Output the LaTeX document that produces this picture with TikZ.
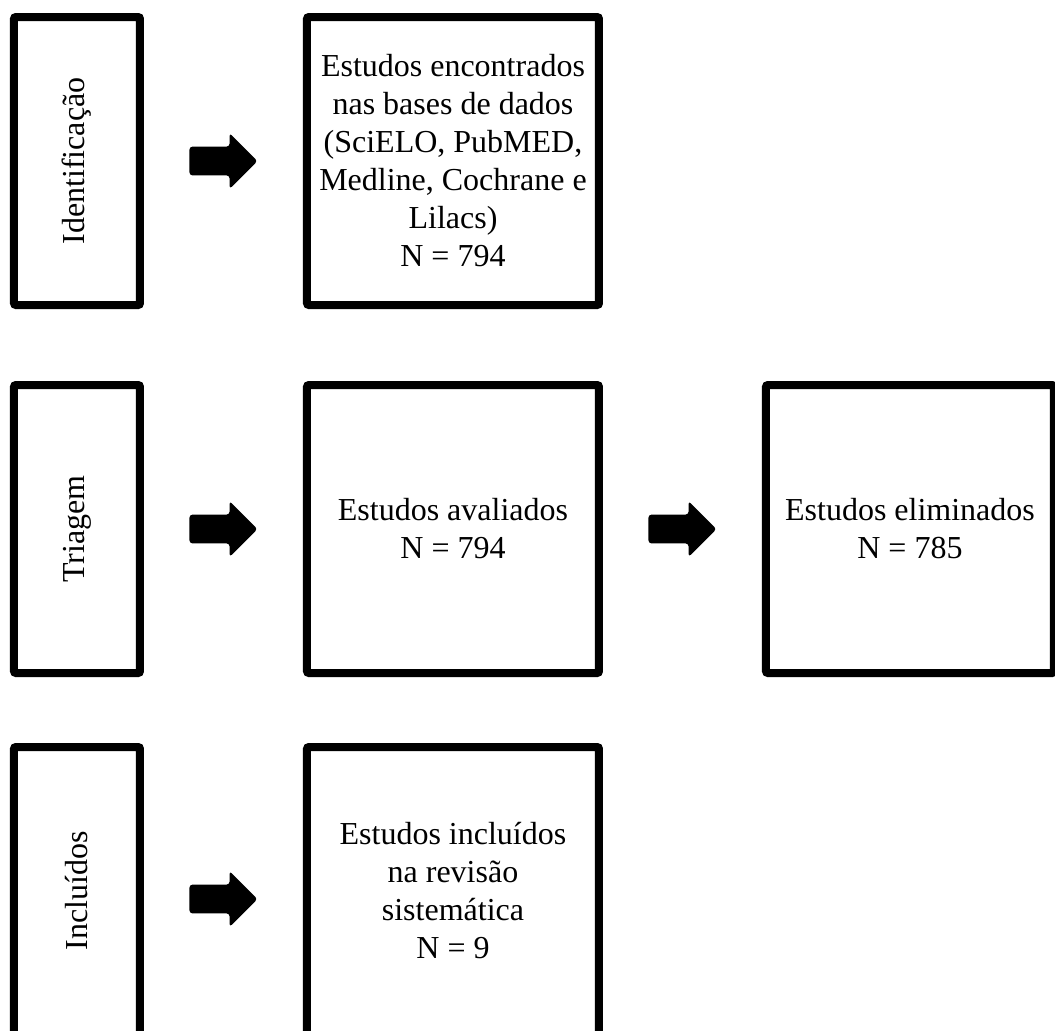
\documentclass[tikz,border=0pt]{standalone}
\usepackage{fontspec}
\setmainfont{Liberation Serif}
\usetikzlibrary{calc}
\usetikzlibrary{positioning}
\usetikzlibrary{shapes,shapes.arrows}
\begin{document}
\begin{tikzpicture}[
  x=0.5pt,y=-0.5pt,
  font=\fontsize{16}{19}\selectfont,
  every matrix/.style={ampersand replacement=\&,column sep=22.75pt,row sep=33pt,inner sep=0pt},
  stage/.style={draw,line width=4pt,rounded corners=1pt,minimum width=63pt,minimum height=144pt,inner sep=0pt},
  record/.style={stage,minimum width=146pt},
  recordwide/.style={stage,minimum width=144pt},
  blockarrow/.style={single arrow,fill=black,draw=none,rounded corners=1.5pt,
    minimum height=34pt,minimum width=27.5pt,single arrow head extend=6.75pt,
    inner xsep=0pt,inner ysep=7pt,outer sep=0pt},
  every node/.style={align=center}]

  % Lay out the boxes and the block arrows in a grid
  \matrix{
    \node[stage] (ident) {\rotatebox{90}{Identificação}};
      \& \node[blockarrow] (arrowident) {};
      \& \node[record] (found) {Estudos encontrados\\nas bases de dados\\(SciELO, PubMED,\\Medline, Cochrane e\\Lilacs)\\N = 794};
      \& \& \\[3pt]
    \node[stage] (screen) {\rotatebox{90}{Triagem}};
      \& \node[blockarrow] (arrowscreen) {};
      \& \node[record] (assessed) {Estudos avaliados\\N = 794};
      \& \node[blockarrow] (arrowexcl) {};
      \& \node[recordwide] (excluded) {Estudos eliminados\\N = 785};
      \\
    \node[stage] (incl) {\rotatebox{90}{Incluídos}};
      \& \node[blockarrow,yshift=-4pt] (arrowincl) {};
      \& \node[record] (included) {Estudos incluídos\\na revisão\\sistemática\\N = 9};
      \& \& \\
  };

  % Crop to the visible frame
  \pgfresetboundingbox
  \useasboundingbox ($(ident.north west)+(-10,-13)$) rectangle ++(1055,1030);
\end{tikzpicture}
\end{document}
